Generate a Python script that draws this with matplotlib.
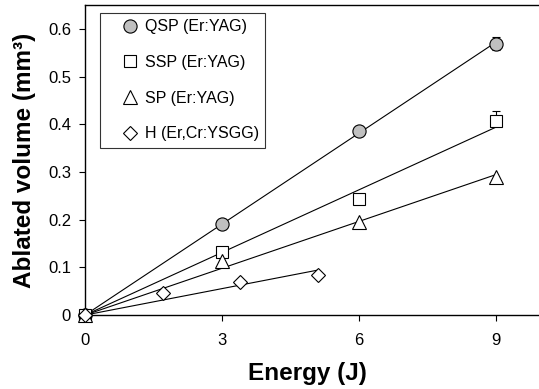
import numpy as np
import matplotlib
matplotlib.use("Agg")
import matplotlib.pyplot as plt

plt.rcParams['font.family'] = ['Liberation Sans', 'DejaVu Sans']

# data
labels = ['QSP (Er:YAG)', 'SSP (Er:YAG)', 'SP (Er:YAG)', 'H (Er,Cr:YSGG)']
x_er = [0, 3, 6, 9]
qsp = [0, 0.192, 0.386, 0.569]
ssp = [0, 0.133, 0.244, 0.406]
sp = [0, 0.113, 0.196, 0.290]
x_h = [0, 1.7, 3.4, 5.1]
h = [0, 0.0455, 0.070, 0.085]
qsp_err = [0, 0, 0, 0.013]
ssp_err = [0, 0, 0, 0.021]

fig = plt.figure(figsize=(5.39, 3.89), dpi=100)
ax = fig.add_axes([0.1577, 0.19, 0.8423, 0.797])

def origin_fit(x, y):
    x = np.asarray(x, float)
    y = np.asarray(y, float)
    k = np.sum(x * y) / np.sum(x * x)
    return k

series = [
    (x_er, qsp, 'o', '#c0c0c0', 9.5, qsp_err, True),
    (x_er, ssp, 's', 'white', 8.5, ssp_err, False),
    (x_er, sp, '^', 'white', 9.5, None, False),
    (x_h, h, 'D', 'white', 6.8, None, False),
]

for (xs, ys, m, fc, ms, err, both), lab in zip(series, labels):
    k = origin_fit(xs, ys)
    xl = np.array([0, max(xs)])
    ax.plot(xl, k * xl, color='black', lw=0.8, zorder=2)
    if err is not None:
        lo = err if both else [0] * len(err)
        ax.errorbar(xs, ys, yerr=[lo, err], fmt='none', ecolor='black',
                    elinewidth=0.8, capsize=3, capthick=0.8, zorder=2)
    ax.plot(xs, ys, linestyle='none', marker=m, markersize=ms,
            markerfacecolor=fc, markeredgecolor='black', markeredgewidth=0.8,
            clip_on=False, zorder=3, label=lab)

ax.set_xlim(0, 9.94)
ax.set_ylim(0, 0.65)
ax.set_xticks([0, 3, 6, 9])
ax.set_yticks([0, 0.1, 0.2, 0.3, 0.4, 0.5, 0.6])
ax.set_yticklabels(['0', '0.1', '0.2', '0.3', '0.4', '0.5', '0.6'])
ax.tick_params(direction='out', length=4, width=0.8, labelsize=12)
ax.tick_params(axis='x', pad=9)
ax.tick_params(axis='y', pad=6)
ax.spines['right'].set_visible(False)
for s in ['left', 'bottom', 'top']:
    ax.spines[s].set_linewidth(1.0)

ax.set_xlabel('Energy (J)', fontsize=17.5, fontweight='bold')
ax.xaxis.set_label_coords(0.49, -0.152)
ax.set_ylabel('Ablated volume (mm³)', fontsize=17.5, fontweight='bold')
ax.yaxis.set_label_coords(-0.108, 0.5)

leg = ax.legend(loc='upper left', bbox_to_anchor=(0.033, 0.975), fontsize=11.5,
                frameon=True, fancybox=False, labelspacing=1.3, handletextpad=-0.6,
                borderpad=0.4, handlelength=3.0, numpoints=1, borderaxespad=0)
leg.get_frame().set_edgecolor('black')
leg.get_frame().set_linewidth(0.8)

fig.savefig('out.png', dpi=100)
